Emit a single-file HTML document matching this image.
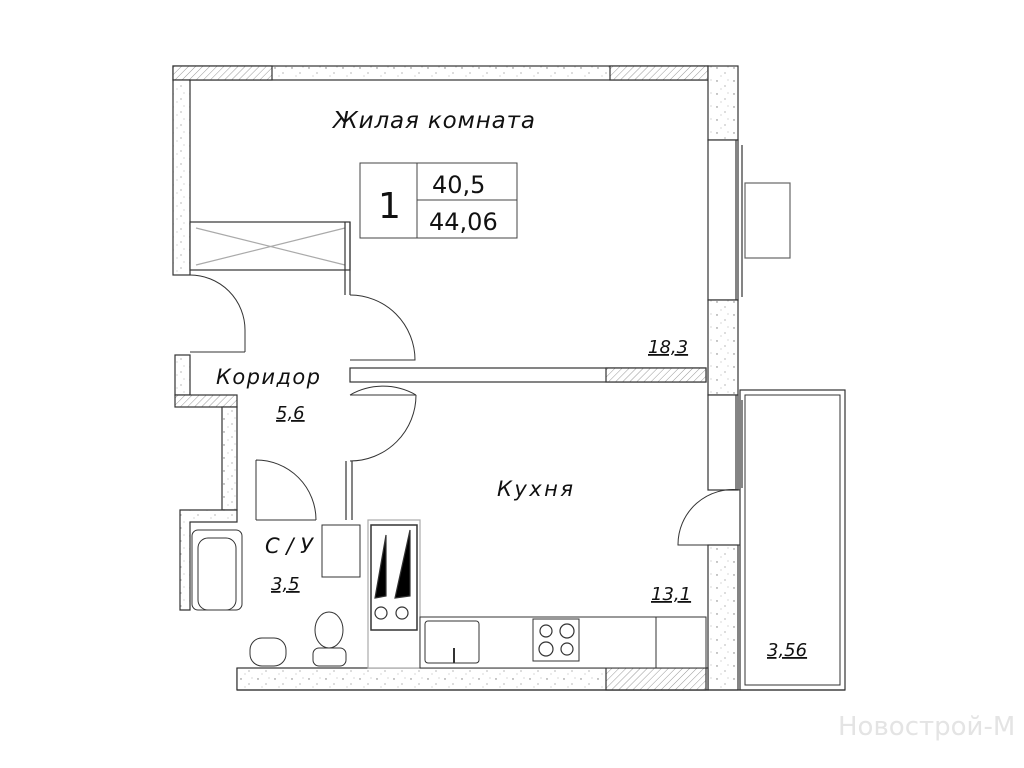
<!DOCTYPE html>
<html><head><meta charset="utf-8"><style>
html,body{margin:0;padding:0;background:#fff;width:1024px;height:768px;overflow:hidden}
svg{display:block}
text{font-family:"DejaVu Sans","Liberation Sans",sans-serif;fill:#111}
.it{font-style:italic}
</style></head><body>
<svg width="1024" height="768" viewBox="0 0 1024 768" xmlns="http://www.w3.org/2000/svg">
<defs>
<pattern id="h" width="5" height="5" patternUnits="userSpaceOnUse" patternTransform="rotate(45)">
<rect width="5" height="5" fill="#fff"/><line x1="0" y1="0" x2="0" y2="5" stroke="#999" stroke-width="1"/></pattern>
<pattern id="c" width="17" height="13" patternUnits="userSpaceOnUse">
<rect width="17" height="13" fill="#fff"/><circle cx="3" cy="3" r=".7" fill="#777"/><circle cx="11" cy="8" r=".6" fill="#888"/><circle cx="7" cy="11" r=".5" fill="#999"/><circle cx="14" cy="2" r=".5" fill="#999"/></pattern>
</defs>
<g stroke="#333" stroke-width="1.2">
<rect x="173" y="66" width="535" height="14" fill="url(#c)"/>
<rect x="173" y="66" width="99" height="14" fill="url(#h)"/>
<rect x="610" y="66" width="98" height="14" fill="url(#h)"/>
<rect x="173" y="80" width="17" height="195" fill="url(#c)"/>
<rect x="708" y="66" width="30" height="74" fill="url(#c)"/>
<rect x="708" y="140" width="30" height="160" fill="#fff"/>
<line x1="736" y1="140" x2="736" y2="300"/><line x1="742" y1="145" x2="742" y2="297"/>
<rect x="745" y="183" width="45" height="75" fill="#fff" stroke="#666"/>
<rect x="708" y="300" width="30" height="95" fill="url(#c)"/>
<rect x="708" y="395" width="30" height="95" fill="#fff"/>
<line x1="736" y1="395" x2="736" y2="490"/><line x1="742" y1="400" x2="742" y2="488"/>
<rect x="708" y="545" width="30" height="145" fill="url(#c)"/>
<rect x="350" y="368" width="356" height="14" fill="#fff"/>
<rect x="606" y="368" width="100" height="14" fill="url(#h)"/>
<rect x="190" y="222" width="160" height="48" fill="#fff"/>
<line x1="196" y1="228" x2="345" y2="265" stroke="#aaa"/><line x1="196" y1="265" x2="345" y2="228" stroke="#aaa"/>
<line x1="345" y1="222" x2="345" y2="295"/><line x1="350" y1="222" x2="350" y2="295"/>
<path d="M190 275 A55 55 0 0 1 245 330 L245 352 M190 352 L245 352" fill="none" stroke-width="1"/>
<path d="M350 295 A65 65 0 0 1 415 360 L350 360" fill="none" stroke-width="1"/>
<path d="M350 395 A66 66 0 0 1 416 395 M350 395 L416 395 M416 395 A66 66 0 0 1 350 461" fill="none" stroke-width="1"/>
<path d="M256 460 A60 60 0 0 1 316 520 M256 460 L256 520 M256 520 L316 520" fill="none" stroke-width="1"/>
<path d="M740 490 A55 55 0 0 0 678 545 L740 545" fill="none" stroke-width="1"/>
<line x1="346" y1="461" x2="346" y2="520"/><line x1="352" y1="461" x2="352" y2="520"/>
<rect x="175" y="355" width="15" height="40" fill="url(#c)"/>
<rect x="175" y="395" width="62" height="12" fill="url(#h)"/>
<rect x="222" y="407" width="15" height="103" fill="url(#c)"/>
<path d="M180 510 L237 510 L237 522 L190 522 L190 610 L180 610 Z" fill="url(#c)"/>
<rect x="192" y="530" width="50" height="80" rx="6" fill="#fff" stroke-width="1"/>
<rect x="198" y="538" width="38" height="72" rx="10" fill="none" stroke-width="1"/>
<line x1="237" y1="668" x2="237" y2="690"/>
<rect x="237" y="668" width="471" height="22" fill="url(#c)"/>
<rect x="606" y="668" width="100" height="22" fill="url(#h)"/>
<rect x="322" y="525" width="38" height="52" fill="#fff" stroke-width="1"/>
<rect x="250" y="638" width="36" height="28" rx="12" fill="#fff" stroke-width="1"/>
<ellipse cx="329" cy="630" rx="14" ry="18" fill="#fff" stroke-width="1"/>
<rect x="313" y="648" width="33" height="18" rx="6" fill="#fff" stroke-width="1"/>
<rect x="368" y="520" width="52" height="148" fill="#fff" stroke="#aaa"/>
<rect x="371" y="525" width="46" height="105" fill="#fff" stroke-width="1.5"/>
<path d="M375 598 L386 596 L386 535 Z" fill="#000"/><path d="M395 598 L410 596 L410 530 Z" fill="#000"/>
<circle cx="381" cy="613" r="6" fill="none"/><circle cx="402" cy="613" r="6" fill="none"/>
<rect x="420" y="617" width="286" height="51" fill="#fff" stroke-width="1"/>
<rect x="425" y="621" width="54" height="42" rx="3" fill="#fff" stroke-width="1"/>
<rect x="533" y="619" width="46" height="42" fill="#fff" stroke-width="1"/>
<circle cx="546" cy="631" r="6" fill="none"/><circle cx="567" cy="631" r="7" fill="none"/><circle cx="546" cy="649" r="7" fill="none"/><circle cx="567" cy="649" r="6" fill="none"/>
<line x1="656" y1="617" x2="656" y2="668" stroke-width="1"/>
<line x1="454" y1="648" x2="454" y2="663" stroke-width="2"/>
<rect x="740" y="390" width="105" height="300" fill="none"/>
<rect x="745" y="395" width="95" height="290" fill="none" stroke-width="1"/>
<line x1="237" y1="690" x2="845" y2="690"/>
</g>
<rect x="360" y="163" width="157" height="75" fill="#fff" stroke="#444"/>
<line x1="417" y1="163" x2="417" y2="238" stroke="#444"/>
<line x1="417" y1="200" x2="517" y2="200" stroke="#444"/>
<text x="378" y="218" font-size="36" font-family="Liberation Sans">1</text>
<text x="432" y="193" font-size="24">40,5</text>
<text x="429" y="230" font-size="24">44,06</text>
<text x="333" y="128" font-size="23" class="it" textLength="202">Жилая комната</text>
<text x="216" y="384" font-size="21" class="it" textLength="104">Коридор</text>
<text x="276" y="419" font-size="18" class="it" text-decoration="underline">5,6</text>
<text x="497" y="496" font-size="21" class="it" textLength="76">Кухня</text>
<text x="265" y="553" font-size="21" class="it">С / У</text>
<text x="271" y="590" font-size="18" class="it" text-decoration="underline">3,5</text>
<text x="651" y="600" font-size="18" class="it" text-decoration="underline">13,1</text>
<text x="648" y="353" font-size="18" class="it" text-decoration="underline">18,3</text>
<text x="767" y="656" font-size="18" class="it" text-decoration="underline">3,56</text>
<text x="838" y="735" font-size="26" style="fill:#e4e4e4">Новострой-М</text>
</svg>
</body></html>
